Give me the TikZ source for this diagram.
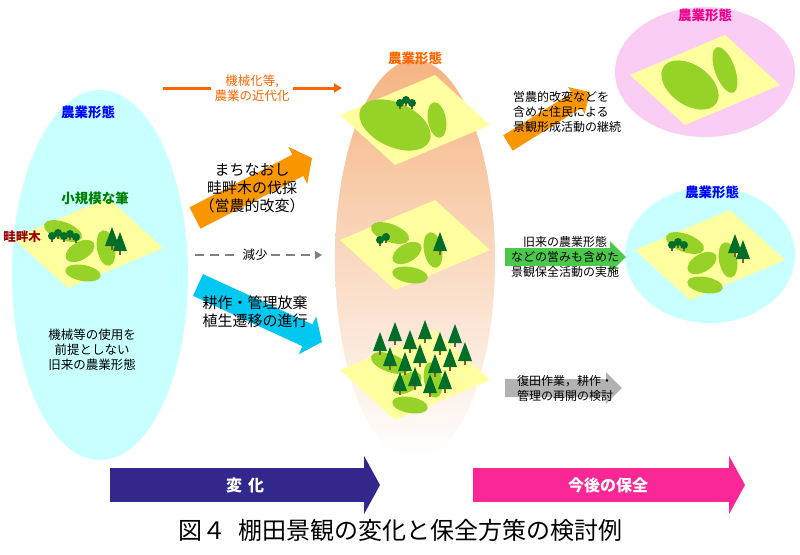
\documentclass[tikz,border=0pt]{standalone}
\usepackage{fontspec}
\setmainfont{Noto Sans CJK JP}
\usetikzlibrary{positioning,arrows.meta}
\definecolor{tileyellow}{RGB}{255,255,160}
\definecolor{fieldgreen}{RGB}{150,210,40}
\definecolor{treegreen}{RGB}{0,110,40}
\definecolor{skycyan}{RGB}{200,255,255}
\definecolor{pinkbg}{RGB}{250,205,245}
\definecolor{peach}{RGB}{245,180,130}
\definecolor{navy}{RGB}{50,40,140}
\definecolor{hotpink}{RGB}{250,40,150}
\definecolor{orangeA}{RGB}{250,150,0}
\definecolor{cyanA}{RGB}{0,200,240}
\newcommand{\tile}[2]{% diamond with fields
  \begin{scope}[shift={(#1,#2)}]
    \fill[tileyellow] (20,-45) -- (75,5) -- (-20,45) -- (-75,-5) -- cycle;
    \fill[fieldgreen] (-25,-12) ellipse[x radius=20, y radius=9, rotate=-20];
    \fill[fieldgreen] (-8,8) ellipse[x radius=16, y radius=9, rotate=30];
    \fill[fieldgreen] (18,5) ellipse[x radius=9, y radius=18, rotate=10];
    \fill[fieldgreen] (-5,30) ellipse[x radius=18, y radius=8, rotate=-10];
  \end{scope}}
\newcommand{\tree}[2]{%
  \fill[brown!70!black] (#1-1,#2) rectangle (#1+1,#2+5);
  \fill[treegreen] (#1,#2-18) -- (#1+7,#2+1) -- (#1-7,#2+1) -- cycle;}
\newcommand{\shrub}[2]{%
  \fill[brown!70!black] (#1-0.7,#2) rectangle (#1+0.7,#2+6);
  \fill[treegreen] (#1,#2) circle[radius=4];}
\begin{document}
\begin{tikzpicture}[x=1pt,y=-1pt,
    caption/.style={font=\fontsize{15}{18}\selectfont, align=left},
    small/.style={font=\fontsize{12.5}{15}\selectfont, align=left},
    title/.style={font=\fontsize{13.5}{15}\selectfont\bfseries},
    blockarrow/.style={line width=#1, -{Triangle[length=16pt 0, width=#1*1.7]}},
    blockarrow/.default=22pt
  ]
  \useasboundingbox (0,0) rectangle (800,554);
  % backgrounds
  \fill[skycyan] (100,275) ellipse[x radius=88, y radius=185];
  \shade[top color=peach, bottom color=white] (415,260) ellipse[x radius=80, y radius=200];
  \fill[pinkbg] (705,72) ellipse[x radius=90, y radius=65];
  \fill[skycyan] (710,255) ellipse[x radius=85, y radius=68];
  % tiles
  \tile{88}{243}
  \foreach \x/\y in {52/236,58/233,64/236,70/234,76/237} {\shrub{\x}{\y}}
  \tree{112}{245} \tree{120}{250}
  \begin{scope}[shift={(415,120)}]
    \fill[tileyellow] (20,-45) -- (75,5) -- (-20,45) -- (-75,-5) -- cycle;
    \fill[fieldgreen] (-20,5) ellipse[x radius=38, y radius=22, rotate=-25];
    \fill[fieldgreen] (22,0) ellipse[x radius=9, y radius=18, rotate=10];
  \end{scope}
  \foreach \x/\y in {400/103,406/100,412/103} {\shrub{\x}{\y}}
  \tile{415}{245}
  \foreach \x/\y in {380/240,386/237} {\shrub{\x}{\y}}
  \tree{440}{250}
  \tile{415}{375}
  \foreach \x/\y in {380/350,395/340,410/348,425/338,440/350,455/342,390/365,405/370,420/362,435/372,450/366,465/360,415/385,430/392,445/388,400/390} {\tree{\x}{\y}}
  \begin{scope}[shift={(705,80)}]
    \fill[tileyellow] (20,-45) -- (75,5) -- (-20,45) -- (-75,-5) -- cycle;
    \fill[fieldgreen] (-15,5) ellipse[x radius=32, y radius=20, rotate=-35];
    \fill[fieldgreen] (20,-10) ellipse[x radius=10, y radius=24, rotate=20];
  \end{scope}
  \tile{710}{255}
  \foreach \x/\y in {672/245,678/242,684/245} {\shrub{\x}{\y}}
  \tree{735}{252} \tree{743}{258}
  % titles
  \node[title, text=blue] (titleA) at (88,112) {農業形態};
  \node[title, text=green!50!black] (fieldsA) at (95,198) {小規模な筆};
  \node[small, text=red!60!black, font=\fontsize{12.5}{14}\selectfont\bfseries] (ridgeA) at (22,237) {畦畔木};
  \node[small, align=center] (oldA) at (92,350) {機械等の使用を\\前提としない\\旧来の農業形態};
  \node[title, text=orange!80!red] (titleB) at (415,58) {農業形態};
  \node[title, text=magenta] (titleC) at (705,15) {農業形態};
  \node[title, text=blue] (titleD) at (712,192) {農業形態};
  % change arrows
  \node[small, text=orange!80!red, align=center] (modern) at (252,88) {機械化等,\\農業の近代化};
  \coordinate (modL) at (163,88);
  \coordinate (modR) at (342,88);
  \draw[orange!80!red, line width=3pt] (modL) -- (modern.west);
  \draw[orange!80!red, line width=3pt, -{Triangle[length=8pt 0,width=9pt 0]}] (modern.east) -- (modR);
  \coordinate (upS) at (195,218);
  \coordinate (upE) at (312,158);
  \draw[blockarrow=24pt, orangeA] (upS) -- (upE);
  \node[caption, align=center] (alter) at (252,188) {まちなおし\\畦畔木の伐採\\（営農的改変）};
  \node[small] (decrease) at (255,255) {減少};
  \coordinate (decL) at (195,255);
  \coordinate (decR) at (322,255);
  \draw[gray, line width=2.5pt, dash pattern=on 9pt off 6pt] (decL) -- (decrease.west);
  \draw[gray, line width=2.5pt, dash pattern=on 9pt off 6pt, -{Triangle[length=7pt 0,width=8pt 0]}] (decrease.east) -- (decR);
  \coordinate (dnS) at (198,285);
  \coordinate (dnE) at (322,342);
  \draw[blockarrow=24pt, cyanA] (dnS) -- (dnE);
  \node[caption] (abandon) at (255,312) {耕作・管理放棄\\植生遷移の進行};
  % conservation arrows
  \coordinate (kuS) at (508,143);
  \coordinate (kuE) at (590,92);
  \draw[blockarrow=18pt, orangeA] (kuS) -- (kuE);
  \node[small, font=\fontsize{12}{15}\selectfont] (keep) at (567,112) {営農的改変などを\\含めた住民による\\景観形成活動の継続};
  \coordinate (kmS) at (505,257);
  \coordinate (kmE) at (626,257);
  \draw[blockarrow=18pt, green!70!black!70] (kmS) -- (kmE);
  \node[small, font=\fontsize{12}{15}\selectfont, align=center] (keepOld) at (565,257) {旧来の農業形態\\などの営みも含めた\\景観保全活動の実施};
  \coordinate (rsS) at (505,388);
  \coordinate (rsE) at (622,388);
  \draw[blockarrow=18pt, gray!60] (rsS) -- (rsE);
  \node[small, font=\fontsize{12}{15}\selectfont] (restore) at (565,388) {復田作業，耕作・\\管理の再開の検討};
  % bottom arrows
  \coordinate (chS) at (110,485);
  \coordinate (chE) at (380,485);
  \draw[blockarrow=34pt, navy] (chS) -- (chE);
  \node[text=white, font=\fontsize{16}{18}\selectfont\bfseries] (change) at (245,485) {変\hspace{6pt}化};
  \coordinate (fuS) at (473,485);
  \coordinate (fuE) at (745,485);
  \draw[blockarrow=34pt, hotpink] (fuS) -- (fuE);
  \node[text=white, font=\fontsize{16}{18}\selectfont\bfseries] (future) at (608,485) {今後の保全};
  \node[font=\fontsize{24}{26}\selectfont] (fig) at (400,530) {図４\hspace{12pt}棚田景観の変化と保全方策の検討例};
\end{tikzpicture}
\end{document}
